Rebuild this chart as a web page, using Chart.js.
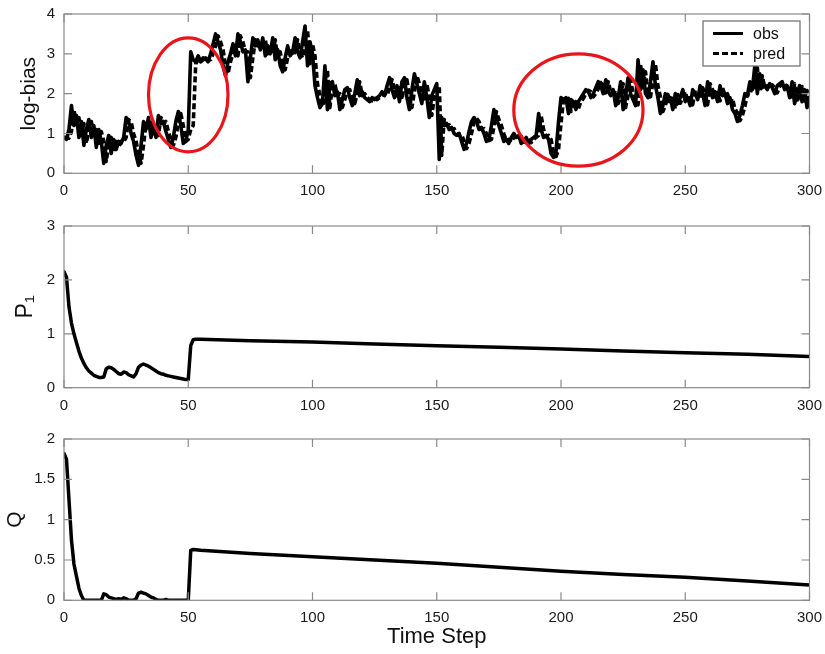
<!DOCTYPE html>
<html><head><meta charset="utf-8">
<script src="https://cdn.jsdelivr.net/npm/chart.js@4"></script>
<style>
html,body{margin:0;padding:0;background:#fff;}
#wrap{position:relative;width:825px;height:654px;overflow:hidden;}
canvas{position:absolute;left:0;}
</style></head><body>
<div id="wrap">
<canvas id="c1" width="825" height="200" style="top:0"></canvas>
<canvas id="c2" width="825" height="220" style="top:200px"></canvas>
<canvas id="c3" width="825" height="234" style="top:420px"></canvas>
</div>
<script>
// ---------- data ----------
const xTickLabels = [0, 50, 100, 150, 200, 250, 300];
const biasTicks = [0, 1, 2, 3, 4];
const pTicks = [0, 1, 2, 3];
const qTicks = [0, 0.5, 1, 1.5, 2];

// log-bias, one value per time step 0..300
const obs = [
 0.9, 0.85, 1.1, 1.7, 1.2, 1.45, 0.9, 1.3, 0.7, 1.1, 1.35,
 0.9, 1.2, 0.65, 1.1, 0.8, 0.25, 0.7, 0.95, 0.5, 0.85,
 0.6, 0.8, 0.75, 0.9, 1.4, 1.3, 1.0, 0.8, 0.45, 0.2,
 0.7, 1.3, 1.1, 1.4, 0.9, 1.2, 0.9, 1.45, 1.25, 1.3,
 1.05, 0.85, 0.65, 0.9, 1.3, 1.55, 1.2, 0.75, 0.8, 1.1,
 3.05, 2.85, 2.8, 2.95, 2.8, 2.85, 2.9, 2.8, 3.0, 3.25,
 3.5, 3.3, 3.1, 2.7, 2.45, 2.8, 3.0, 3.25, 2.95, 3.5,
 3.3, 3.05, 3.1, 2.3, 2.9, 3.4, 3.2, 3.35, 3.1, 3.4,
 2.95, 3.2, 3.0, 3.4, 2.85, 3.1, 2.7, 2.55, 2.9, 3.2,
 2.95, 3.05, 3.4, 3.05, 2.9, 3.3, 3.7, 2.7, 3.3, 3.0,
 2.2, 1.9, 1.65, 1.75, 2.7, 1.6, 2.25, 2.3, 1.95, 2.05,
 1.6, 1.85, 2.1, 2.15, 1.9, 1.7, 2.0, 2.35, 1.95, 2.05,
 1.9, 1.85, 1.8, 1.9, 1.85, 1.9, 1.95, 2.05, 1.95, 2.2,
 2.4, 2.1, 1.9, 2.2, 1.8, 2.3, 2.4, 1.9, 1.6, 2.1,
 2.5, 2.25, 2.0, 1.75, 2.3, 1.9, 1.4, 1.95, 2.1, 2.25,
 0.35, 1.4, 1.2, 1.25, 1.1, 1.15, 1.0, 0.95, 1.0, 0.8,
 0.6, 0.75, 1.05, 1.3, 1.4, 1.3, 1.1, 1.15, 1.0, 0.8,
 0.85, 1.2, 1.6, 1.35, 1.2, 1.0, 0.8, 0.85, 0.75, 0.9,
 1.0, 0.9, 0.95, 0.75, 0.8, 0.9, 0.75, 0.85, 0.9, 0.95,
 1.5, 1.1, 0.9, 0.95, 0.85, 0.5, 0.4, 0.55, 1.3, 1.9,
 1.85, 1.9, 1.5, 1.85, 1.8, 1.6, 1.8, 1.9, 2.0, 2.1,
 2.05, 1.9, 2.0, 2.15, 2.3, 2.2, 2.0, 2.35, 2.05, 1.95,
 2.1, 1.7, 1.9, 2.3, 1.6, 1.95, 2.4, 2.0, 1.85, 1.7,
 2.85, 2.1, 2.6, 2.0, 1.9, 2.3, 2.8, 2.2, 1.9, 1.5,
 1.7, 2.0, 1.8, 1.9, 1.6, 2.0, 1.75, 1.9, 2.1, 1.8,
 1.9, 1.7, 2.1, 2.0, 1.85, 2.2, 2.0, 1.7, 2.3, 2.1,
 1.9, 2.05, 1.8, 2.2, 1.95, 2.0, 1.75, 1.9, 1.6, 1.5,
 1.3, 1.45, 1.7, 2.0, 1.95, 2.3, 2.1, 2.7, 2.0, 2.5,
 2.15, 2.2, 2.1, 2.25, 2.15, 2.0, 2.2, 2.25, 2.3, 2.1,
 2.2, 1.9, 2.3, 1.75, 2.0, 2.2, 1.8, 2.1, 1.65, 1.9
];
const pred = [
 0.9, 0.9, 0.88, 1.05, 1.6, 1.25, 1.4, 0.95, 1.25, 0.75, 1.1,
 1.3, 0.95, 1.15, 0.7, 1.05, 0.8, 0.3, 0.7, 0.9, 0.55,
 0.8, 0.65, 0.8, 0.78, 0.9, 1.35, 1.3, 1.0, 0.8, 0.5,
 0.25, 0.7, 1.25, 1.1, 1.35, 0.95, 1.15, 0.95, 1.4, 1.25,
 1.3, 1.05, 0.85, 0.7, 0.9, 1.25, 1.5, 1.2, 0.8, 0.85,
 1.1, 1.2, 2.75, 2.85, 2.8, 2.9, 2.8, 2.85, 2.85, 3.0,
 3.2, 3.45, 3.3, 3.1, 2.7, 2.5, 2.8, 3.0, 3.2, 2.95,
 3.45, 3.3, 3.05, 3.05, 2.4, 2.9, 3.35, 3.2, 3.3, 3.1,
 3.35, 3.0, 3.15, 3.0, 3.35, 2.9, 3.05, 2.7, 2.6, 2.9,
 3.15, 2.95, 3.05, 3.35, 3.05, 2.9, 3.25, 3.6, 2.75, 3.25,
 2.95, 2.25, 1.95, 1.7, 1.8, 2.6, 1.65, 2.2, 2.25, 1.95,
 2.0, 1.65, 1.85, 2.05, 2.1, 1.9, 1.75, 2.0, 2.3, 1.95,
 2.0, 1.9, 1.85, 1.82, 1.88, 1.85, 1.9, 1.95, 2.0, 1.95,
 2.15, 2.35, 2.1, 1.95, 2.15, 1.85, 2.25, 2.35, 1.9, 1.65,
 2.05, 2.45, 2.25, 2.0, 1.8, 2.25, 1.9, 1.45, 1.9, 2.1,
 2.2, 0.45, 1.35, 1.2, 1.22, 1.1, 1.12, 1.0, 0.95, 0.98,
 0.8, 0.62, 0.75, 1.0, 1.28, 1.38, 1.3, 1.1, 1.12, 1.0,
 0.82, 0.85, 1.15, 1.55, 1.35, 1.2, 1.0, 0.82, 0.85, 0.78,
 0.9, 0.98, 0.9, 0.93, 0.78, 0.8, 0.88, 0.77, 0.85, 0.9,
 0.95, 1.45, 1.1, 0.92, 0.95, 0.85, 0.52, 0.42, 0.6, 1.25,
 1.85, 1.85, 1.88, 1.55, 1.82, 1.8, 1.62, 1.8, 1.88, 2.0,
 2.08, 2.05, 1.92, 2.0, 2.12, 2.28, 2.2, 2.02, 2.3, 2.05,
 1.98, 2.08, 1.75, 1.9, 2.25, 1.65, 1.95, 2.35, 2.0, 1.85,
 1.72, 2.75, 2.15, 2.55, 2.02, 1.92, 2.28, 2.75, 2.2, 1.92,
 1.55, 1.7, 1.98, 1.8, 1.88, 1.62, 1.98, 1.76, 1.9, 2.05,
 1.82, 1.9, 1.72, 2.08, 2.0, 1.86, 2.15, 2.0, 1.72, 2.25,
 2.1, 1.92, 2.02, 1.82, 2.15, 1.96, 2.0, 1.78, 1.88, 1.62,
 1.52, 1.32, 1.45, 1.68, 1.98, 1.96, 2.25, 2.1, 2.65, 2.05,
 2.45, 2.15, 2.2, 2.12, 2.22, 2.15, 2.02, 2.18, 2.25, 2.28,
 2.12, 2.18, 1.92, 2.25, 1.78, 2.0, 2.18, 1.82, 2.08, 1.68
];

// P1 (time step, value)
const pSteps  = [0,1,2,3,4,5,6,7,8,9,10,11,12,13,14,15,16,17,18,19,20,21,22,23,24,25,26,27,28,29,30,31,32,33,34,35,36,37,38,39,40,41,42,43,44,45,46,47,48,49,50,51,52,53,55,75,100,125,150,175,200,225,250,275,300];
const pValues = [2.15,2.05,1.5,1.2,1.0,0.84,0.68,0.55,0.45,0.37,0.31,0.27,0.23,0.21,0.19,0.19,0.2,0.35,0.38,0.37,0.34,0.3,0.26,0.25,0.29,0.28,0.24,0.22,0.2,0.26,0.38,0.42,0.44,0.42,0.4,0.37,0.34,0.31,0.28,0.26,0.25,0.23,0.22,0.21,0.2,0.19,0.18,0.17,0.16,0.15,0.15,0.78,0.89,0.9,0.9,0.87,0.85,0.81,0.78,0.75,0.72,0.68,0.65,0.62,0.58];

// Q (time step, value)
const qSteps  = [0,1,2,3,4,5,6,7,8,15,16,17,18,19,20,21,22,23,24,25,26,28,29,30,31,32,33,34,35,36,37,38,40,41,42,50,51,52,55,75,100,125,150,175,200,225,250,275,300];
const qValues = [1.82,1.75,1.25,0.75,0.45,0.3,0.15,0.06,0,0,0.08,0.07,0.04,0.03,0.02,0.01,0.02,0.01,0.03,0.02,0,0,0.02,0.09,0.1,0.09,0.08,0.06,0.04,0.03,0.01,0,0,0.01,0,0,0.62,0.63,0.62,0.58,0.54,0.5,0.46,0.41,0.36,0.32,0.285,0.24,0.19];

// highlighted regions in the top panel (data units: centre step, centre value, half-widths)
const highlightCentres = [[50, 1.97], [207, 1.59]];
const highlightRadii   = [[16, 1.43], [26, 1.41]];

// ---------- styling / drawing ----------
const FONT = "'Liberation Sans', Arial, Helvetica, sans-serif";
Chart.defaults.font.family = FONT;
Chart.defaults.color = '#1a1a1a';
Chart.defaults.animation = false;

const framePlugin = {
  id: 'frame',
  afterDatasetsDraw(chart) {
    const {ctx, chartArea: a, scales} = chart;
    ctx.save();
    ctx.strokeStyle = '#8a8a8a';
    ctx.lineWidth = 1.2;
    ctx.strokeRect(a.left, a.top, a.right - a.left, a.bottom - a.top);
    const L = 8;
    ctx.beginPath();
    scales.x.ticks.forEach(t => {
      const p = scales.x.getPixelForValue(t.value);
      ctx.moveTo(p, a.bottom); ctx.lineTo(p, a.bottom - L);
      ctx.moveTo(p, a.top); ctx.lineTo(p, a.top + L);
    });
    scales.y.ticks.forEach(t => {
      const p = scales.y.getPixelForValue(t.value);
      ctx.moveTo(a.left, p); ctx.lineTo(a.left + L, p);
      ctx.moveTo(a.right, p); ctx.lineTo(a.right - L, p);
    });
    ctx.stroke();
    ctx.restore();
  }
};

const highlightPlugin = {
  id: 'highlight',
  afterDatasetsDraw(chart) {
    const {ctx, scales: {x, y}} = chart;
    ctx.save();
    ctx.strokeStyle = '#e8151b';
    ctx.lineWidth = 3.2;
    highlightCentres.forEach((c, i) => {
      const cx = x.getPixelForValue(c[0]), cy = y.getPixelForValue(c[1]);
      const rx = Math.abs(x.getPixelForValue(c[0] + highlightRadii[i][0]) - cx);
      const ry = Math.abs(y.getPixelForValue(c[1] + highlightRadii[i][1]) - cy);
      ctx.beginPath();
      ctx.ellipse(cx, cy, rx, ry, 0, 0, Math.PI * 2);
      ctx.stroke();
    });
    ctx.restore();
  }
};

const boxLegendPlugin = {
  id: 'boxLegend',
  afterDraw(chart) {
    const {ctx, chartArea: a} = chart;
    const w = 97, h = 45;
    const x0 = a.right - 9.5 - w, y0 = a.top + 7;
    ctx.save();
    ctx.fillStyle = '#fff';
    ctx.fillRect(x0, y0, w, h);
    ctx.strokeStyle = '#6a6a6a';
    ctx.lineWidth = 1.2;
    ctx.strokeRect(x0, y0, w, h);
    chart.data.datasets.forEach((ds, i) => {
      const yy = y0 + 12.5 + i * 20;
      ctx.beginPath();
      ctx.setLineDash(ds.borderDash || []);
      ctx.strokeStyle = ds.borderColor;
      ctx.lineWidth = 3;
      ctx.moveTo(x0 + 10, yy); ctx.lineTo(x0 + 40, yy);
      ctx.stroke();
      ctx.setLineDash([]);
      ctx.fillStyle = '#111';
      ctx.font = '16px ' + FONT;
      ctx.textBaseline = 'middle';
      ctx.fillText(ds.label, x0 + 50, yy + 1);
    });
    ctx.restore();
  }
};

function xScale(h, titleText) {
  return {
    type: 'linear', min: 0, max: 300,
    afterBuildTicks: s => { s.ticks = xTickLabels.map(v => ({value: v})); },
    ticks: {padding: 9, font: {size: 15}, color: '#1a1a1a', maxRotation: 0, autoSkip: false,
            callback: v => String(v)},
    grid: {display: false, drawTicks: false},
    border: {display: false},
    title: titleText ? {display: true, text: titleText, font: {size: 22}, color: '#111', padding: {top: 0, bottom: 4}} : {display: false},
    afterFit: s => { s.height = h; s.paddingLeft = 0; s.paddingRight = 0; }
  };
}
function yScale(tickVals, titleText, titleSize, titlePad) {
  return {
    type: 'linear', min: tickVals[0], max: tickVals[tickVals.length - 1],
    afterBuildTicks: s => { s.ticks = tickVals.map(v => ({value: v})); },
    ticks: {padding: 9, font: {size: 15}, color: '#1a1a1a', callback: v => String(v)},
    grid: {display: false, drawTicks: false},
    border: {display: false},
    title: {display: true, text: titleText, font: {size: titleSize}, color: '#111', padding: {top: titlePad, bottom: 0}},
    afterFit: s => { s.width = 64; s.paddingTop = 0; s.paddingBottom = 0; }
  };
}
function lineDs(label, xs, ys, width, dash) {
  return {
    label,
    data: ys.map((v, i) => ({x: xs ? xs[i] : i, y: v})),
    borderColor: '#000', backgroundColor: '#000',
    borderWidth: width, borderDash: dash || [],
    borderJoinStyle: 'round', borderCapStyle: dash ? 'butt' : 'round',
    pointRadius: 0, tension: 0, fill: false
  };
}
const baseOpts = (padTop, xH, yTicks, yTitle, ySize, yPad, xTitle) => ({
  responsive: false,
  animation: false,
  layout: {padding: {top: padTop, right: 15.5, left: 0, bottom: 0}},
  plugins: {legend: {display: false}, tooltip: {enabled: false}},
  scales: {x: xScale(xH, xTitle), y: yScale(yTicks, yTitle, ySize, yPad)}
});

new Chart(document.getElementById('c1'), {
  type: 'line',
  data: {datasets: [lineDs('obs', null, obs, 3.6), lineDs('pred', null, pred, 3.6, [6, 3])]},
  options: baseOpts(14, 26.7, biasTicks, 'log-bias', 21, 17, null),
  plugins: [framePlugin, highlightPlugin, boxLegendPlugin]
});
new Chart(document.getElementById('c2'), {
  type: 'line',
  data: {datasets: [lineDs('P1', pSteps, pValues, 3.5)]},
  options: baseOpts(26, 32.3, pTicks, 'P\u2081', 23, 12, null),
  plugins: [framePlugin]
});
new Chart(document.getElementById('c3'), {
  type: 'line',
  data: {datasets: [lineDs('Q', qSteps, qValues, 3.5)]},
  options: baseOpts(19, 53.7, qTicks, 'Q', 21, 3, 'Time Step'),
  plugins: [framePlugin]
});
</script>
</body></html>
